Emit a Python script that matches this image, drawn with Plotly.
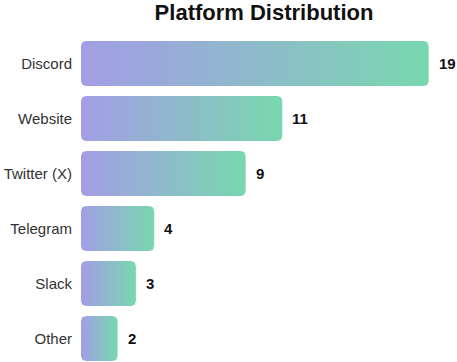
import numpy as np
import plotly.graph_objects as go

categories = ["Discord", "Website", "Twitter (X)", "Telegram", "Slack", "Other"]
values = [19, 11, 9, 4, 3, 2]
title = "Platform Distribution"

W, H = 457, 362
ML, MR, MT, MB = 81, 10, 36, 0
XR = [0, 20]
pitch = 55.0
YR = [-0.5 + (H - MT - MB) / pitch, -0.5]
bar_half = 0.41
radius_px = 5
left_c = "#a39de6"
right_c = "#78d8ae"

px_x = (W - ML - MR) / (XR[1] - XR[0])
px_y = (H - MT - MB) / (YR[0] - YR[1])
rx = radius_px / px_x
ry = radius_px / px_y


def rounded_rect(x0, x1, y0, y1):
    t = np.linspace(0, np.pi / 2, 8)
    xs, ys = [], []
    for cx, cy, a0 in [(x1 - rx, y1 - ry, 0), (x0 + rx, y1 - ry, np.pi / 2),
                       (x0 + rx, y0 + ry, np.pi), (x1 - rx, y0 + ry, 1.5 * np.pi)]:
        ang = a0 + t
        xs += list(cx + rx * np.cos(ang))
        ys += list(cy + ry * np.sin(ang))
    xs.append(xs[0]); ys.append(ys[0])
    return xs, ys


fig = go.Figure()
for i, (c, v) in enumerate(zip(categories, values)):
    xs, ys = rounded_rect(0, v, i - bar_half, i + bar_half)
    fig.add_trace(go.Scatter(
        x=xs, y=ys, mode="lines", fill="toself", line=dict(width=0),
        fillgradient=dict(type="horizontal", colorscale=[[0, left_c], [1, right_c]]),
        hoverinfo="skip", showlegend=False, name=c))
    fig.add_annotation(x=v, y=i, text=f"<b>{v}</b>", showarrow=False,
                       xanchor="left", xshift=8,
                       font=dict(family="Liberation Sans, Arial", size=15, color="#111"))

fig.update_layout(
    width=W, height=H,
    margin=dict(l=ML, r=MR, t=MT, b=MB, autoexpand=False),
    plot_bgcolor="white", paper_bgcolor="white",
    title=dict(text=f"<b>{title}</b>", x=0.5 * (ML + W - MR) / W, xanchor="center",
               y=1 - 12 / H, yanchor="middle",
               font=dict(family="Liberation Sans, Arial", size=22, color="#111")),
    xaxis=dict(range=XR, visible=False, fixedrange=True, automargin=False),
    yaxis=dict(range=YR, tickvals=list(range(len(categories))), ticktext=categories,
               showgrid=False, zeroline=False, showline=False, ticks="",
               ticklabelstandoff=8, automargin=False,
               tickfont=dict(family="Liberation Sans, Arial", size=15, color="#333")),
)
fig.write_html("out.html", config={"displayModeBar": False},
               post_script="document.body.style.margin='0px';document.body.style.overflow='hidden';")
